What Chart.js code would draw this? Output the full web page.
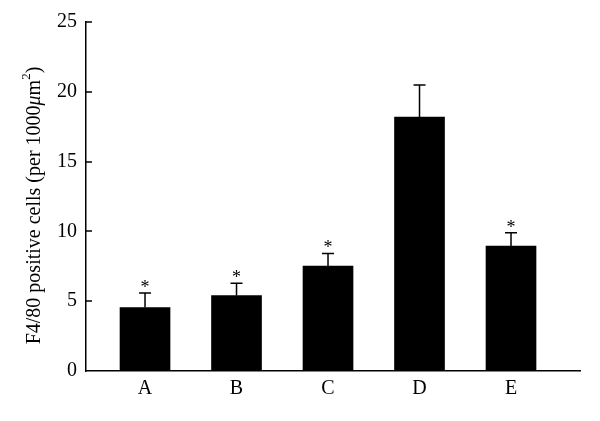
<!DOCTYPE html>
<html>
<head>
<meta charset="utf-8">
<script src="https://cdn.jsdelivr.net/npm/chart.js@4"></script>
<style>
  body { margin: 0; background: #fff; }
  canvas { display: block; }
</style>
</head>
<body>
<canvas id="chart" width="600" height="421"></canvas>
<script>
// F4/80 positive cells bar chart

const categories = ["A", "B", "C", "D", "E"];
const means = [4.55, 5.41, 7.52, 18.19, 8.95];
const errors = [1.03, 0.88, 0.89, 2.29, 0.95];
const significant = [true, true, true, false, true];
const yTicks = [0, 5, 10, 15, 20, 25];

const serif = "'Liberation Serif', 'Times New Roman', serif";

// inward tick marks, error bars, asterisks and the y title
const extras = {
  id: "extras",
  afterDatasetsDraw(chart) {
    const ctx = chart.ctx;
    const x = chart.scales.x;
    const y = chart.scales.y;
    ctx.save();
    ctx.strokeStyle = "#000";
    ctx.lineWidth = 1.5;

    yTicks.forEach(t => {
      if (t === 0) return;
      const py = Math.round(y.getPixelForValue(t));
      ctx.beginPath();
      ctx.moveTo(x.left, py);
      ctx.lineTo(x.left + 6, py);
      ctx.stroke();
    });

    means.forEach((m, i) => {
      const px = x.getPixelForValue(i);
      const top = y.getPixelForValue(m);
      const cap = y.getPixelForValue(m + errors[i]);
      ctx.beginPath();
      ctx.moveTo(px, top);
      ctx.lineTo(px, cap);
      ctx.moveTo(px - 6, cap);
      ctx.lineTo(px + 6, cap);
      ctx.stroke();
      if (significant[i]) {
        ctx.fillStyle = "#000";
        ctx.font = "18px " + serif;
        ctx.textAlign = "center";
        ctx.textBaseline = "middle";
        ctx.fillText("*", px, cap - 5);
      }
    });

    // y axis title with italic mu and superscript
    ctx.translate(35, (y.top + y.bottom) / 2 + 9);
    ctx.rotate(-Math.PI / 2);
    ctx.fillStyle = "#000";
    ctx.textBaseline = "middle";
    const parts = [
      { t: "F4/80 positive cells (per 1000", f: "20px " + serif, dy: 0 },
      { t: "\u03bc", f: "italic 20px " + serif, dy: 0 },
      { t: "m", f: "20px " + serif, dy: 0 },
      { t: "2", f: "13px " + serif, dy: -8 },
      { t: ")", f: "20px " + serif, dy: 0 }
    ];
    let total = 0;
    parts.forEach(p => { ctx.font = p.f; p.w = ctx.measureText(p.t).width; total += p.w; });
    let cx = -total / 2;
    ctx.textAlign = "left";
    parts.forEach(p => {
      ctx.font = p.f;
      ctx.fillText(p.t, cx, p.dy);
      cx += p.w;
    });
    ctx.restore();
  }
};

new Chart(document.getElementById("chart"), {
  type: "bar",
  data: {
    datasets: [{
      data: means.map((v, i) => ({ x: i, y: v })),
      backgroundColor: "#000",
      borderWidth: 0,
      barThickness: 50
    }]
  },
  options: {
    responsive: false,
    animation: false,
    layout: { padding: { top: 22, right: 20, left: 0, bottom: 0 } },
    plugins: { legend: { display: false }, tooltip: { enabled: false } },
    scales: {
      x: {
        type: "linear",
        offset: false,
        min: -0.645,
        max: 4.754,
        grid: { display: false, drawTicks: false },
        border: { display: true, color: "#000", width: 1.5 },
        afterBuildTicks: scale => { scale.ticks = categories.map((_, i) => ({ value: i })); },
        afterFit: scale => { scale.height = 50; },
        ticks: {
          color: "#000",
          padding: 6,
          maxRotation: 0,
          font: { family: serif, size: 20 },
          callback: v => categories[v]
        }
      },
      y: {
        min: 0,
        max: 25,
        grid: { display: false, drawTicks: false },
        border: { display: true, color: "#000", width: 1.5 },
        afterBuildTicks: scale => { scale.ticks = yTicks.map(v => ({ value: v })); },
        afterFit: scale => { scale.width = 86; },
        ticks: {
          color: "#000",
          padding: 9,
          font: { family: serif, size: 20 }
        }
      }
    }
  },
  plugins: [extras]
});
</script>
</body>
</html>
